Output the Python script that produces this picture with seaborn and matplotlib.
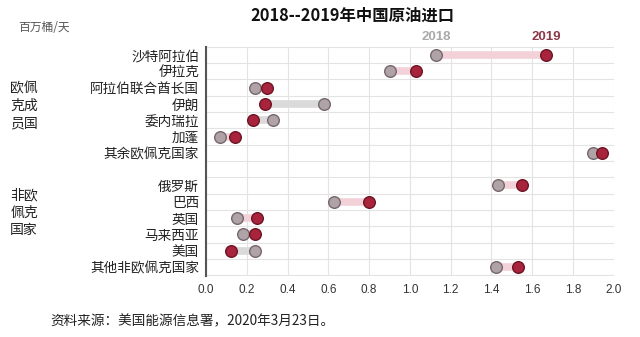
import matplotlib
matplotlib.use("Agg")
import matplotlib.pyplot as plt
import seaborn as sns
import pandas as pd
import numpy as np

countries = ["沙特阿拉伯", "伊拉克", "阿拉伯联合酋长国", "伊朗", "委内瑞拉", "加蓬", "其余欧佩克国家",
             "俄罗斯", "巴西", "英国", "马来西亚", "美国", "其他非欧佩克国家"]
groups = ["opec"] * 7 + ["non"] * 6
v2018 = [1.13, 0.90, 0.24, 0.58, 0.33, 0.07, 1.90, 1.43, 0.63, 0.15, 0.18, 0.24, 1.42]
v2019 = [1.67, 1.03, 0.30, 0.29, 0.23, 0.14, 1.94, 1.55, 0.80, 0.25, 0.24, 0.12, 1.53]
xticks = [0.0, 0.2, 0.4, 0.6, 0.8, 1.0, 1.2, 1.4, 1.6, 1.8, 2.0]

sns.set_theme(style="whitegrid")
plt.rcParams['font.family'] = ['Noto Sans CJK SC', 'DejaVu Sans']

# positions with a gap row between groups
ypos = []
i = 0
prev = groups[0]
for g in groups:
    if g != prev:
        i += 1
        prev = g
    ypos.append(i)
    i += 1

df = pd.DataFrame({"country": countries, "y": ypos, "2018": v2018, "2019": v2019})

fig = plt.figure(figsize=(6.4, 3.37), dpi=100)
ax = fig.add_axes([0.322, 0.181, 0.637, 0.680])

c18 = "#b0a3a8"; e18 = "#75676c"
c19 = "#a8243c"; e19 = "#6e1424"
for _, r in df.iterrows():
    col = "#f2d2d8" if r["2019"] >= r["2018"] else "#dadada"
    ax.hlines(r["y"], r["2018"], r["2019"], color=col, lw=5.5, zorder=1)

sns.scatterplot(data=df, x="2018", y="y", ax=ax, s=70, color=c18, edgecolor=e18, linewidth=1.0, zorder=3)
sns.scatterplot(data=df, x="2019", y="y", ax=ax, s=70, color=c19, edgecolor=e19, linewidth=1.0, zorder=4)

ax.set_xlim(0, 2.0)
ax.set_ylim(max(ypos) + 0.55, -0.45)
ax.set_xticks(xticks)
ax.set_xticklabels([f"{t:.1f}" for t in xticks], fontsize=8.5, color="#333333", family=["Liberation Sans", "DejaVu Sans"])
ax.set_yticks(ypos)
ax.set_yticklabels(countries, fontsize=9.8, color="#222222")
ax.set_yticks(np.arange(-0.5, max(ypos) + 0.6, 1.0), minor=True)
ax.yaxis.grid(False, which="major")
ax.yaxis.grid(True, which="minor", color="#e3e3e3", lw=0.8)
ax.xaxis.grid(True, color="#e3e3e3", lw=0.8)
ax.tick_params(axis="y", which="both", length=0, pad=5)
ax.tick_params(axis="x", length=0, pad=6)
ax.set_xlabel("")
ax.set_ylabel("")
for s in ["top", "right", "bottom"]:
    ax.spines[s].set_visible(False)
ax.spines["left"].set_color("#555555")
ax.spines["left"].set_linewidth(1.5)

# series labels above first row
ax.text(v2018[0], -0.75, "2018", ha="center", va="bottom", fontsize=9.5, fontweight="bold",
        color="#a9a9a9", family=["Liberation Sans", "DejaVu Sans"], clip_on=False)
ax.text(v2019[0], -0.75, "2019", ha="center", va="bottom", fontsize=9.5, fontweight="bold",
        color="#8c3848", family=["Liberation Sans", "DejaVu Sans"], clip_on=False)

fig.text(0.55, 0.955, "2018--2019年中国原油进口", ha="center", va="center", fontsize=11.8, fontweight="bold", color="#111111")
fig.text(0.028, 0.918, "百万桶/天", ha="left", va="center", fontsize=8.5, color="#555555")
fig.text(0.016, 0.685, "欧佩\n克成\n员国", ha="left", va="center", fontsize=10, color="#222222", linespacing=1.3)
fig.text(0.016, 0.368, "非欧\n佩克\n国家", ha="left", va="center", fontsize=10, color="#222222", linespacing=1.3)
fig.text(0.078, 0.045, "资料来源：美国能源信息署，2020年3月23日。", ha="left", va="center", fontsize=9.8, color="#222222")

fig.savefig("out.png", dpi=100)
